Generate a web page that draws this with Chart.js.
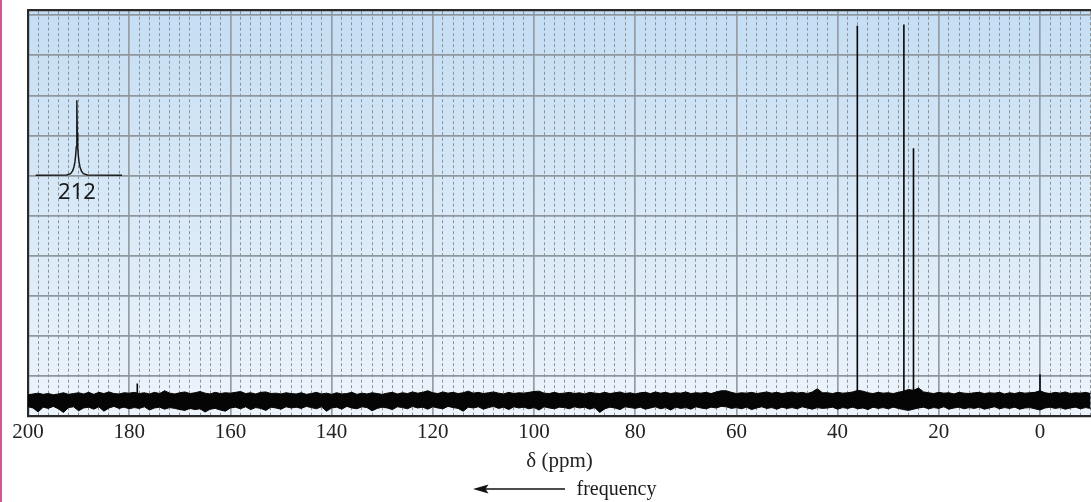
<!DOCTYPE html>
<html><head><meta charset="utf-8">
<script src="https://cdn.jsdelivr.net/npm/chart.js@4.4.1/dist/chart.umd.min.js"></script>
<style>
html,body{margin:0;padding:0;background:#fff;}
#wrap{position:relative;width:1091px;height:502px;overflow:hidden;}
#edge{position:absolute;left:0;top:0;width:2px;height:502px;background:#cf5b8c;}
canvas{position:absolute;left:0;top:0;}
</style></head><body>
<div id="wrap"><canvas id="c" width="1091" height="502"></canvas><div id="edge"></div></div>
<script>
// ---- axis / tick values ----
const majorTicks = [200,180,160,140,120,100,80,60,40,20,0];
const minorStep = 2;
const yGrid = [0,10,20,30,40,50,60,70,80,90,100];
const xMax = 200, xMin = -10.08;
const yMax = 101.3;
const xTitle = 'δ (ppm)';
const arrowLabel = 'frequency';

// ---- baseline noise envelope, one value per ppm from 200 down to -10 ----
const ppmStart = 200, ppmStep = -1;
const noiseHigh = [
 5.3,5.5,5.7,5.4,5.6,5.3,5.5,5.8,5.4,5.6,
 5.8,5.5,5.9,5.4,5.9,5.6,6.0,5.6,5.5,5.8,
 5.7,5.9,5.6,5.8,5.5,5.9,5.6,6.3,5.7,5.5,
 5.8,6.0,5.6,5.8,6.1,5.7,5.5,5.9,5.6,5.8,
 5.7,5.9,6.1,5.6,5.8,5.5,5.9,6.0,5.6,5.7,
 5.5,5.8,5.6,5.5,5.8,5.4,5.6,5.9,5.5,5.7,
 5.4,5.8,5.5,5.6,5.9,5.4,5.7,5.5,5.8,5.6,
 5.4,5.7,5.9,5.5,5.8,5.6,6.0,5.7,5.9,6.3,
 5.8,5.6,6.0,5.7,5.9,5.6,5.8,6.2,5.7,5.9,
 5.6,5.8,6.0,5.7,5.5,5.9,5.6,5.8,5.7,5.9,
 6.1,6.2,5.7,5.6,5.9,5.6,5.7,5.9,5.6,5.8,
 5.5,5.9,5.7,5.6,5.9,5.6,5.8,6.0,5.6,5.8,
 5.5,5.8,5.9,5.6,6.0,5.7,5.9,5.6,5.8,5.7,
 6.0,5.6,5.8,5.7,5.9,5.6,6.0,6.3,6.3,5.9,
 5.6,5.8,5.7,5.9,5.6,5.8,6.0,5.7,5.9,5.6,
 5.8,6.0,5.7,5.9,5.6,6.0,6.8,5.8,5.8,5.6,
 5.9,5.7,5.8,6.0,6.4,6.2,5.8,5.6,5.9,5.7,
 5.8,5.6,5.9,6.2,6.6,6.4,7.0,6.0,5.8,5.6,
 5.9,5.7,5.8,5.5,5.9,5.7,5.6,5.8,5.9,5.6,
 5.8,5.7,5.9,5.5,5.8,5.6,5.9,5.7,5.8,5.9,
 6.3,5.8,5.6,5.9,5.7,6.0,5.6,5.8,5.7,5.9,5.6
];
const noiseLow = [
 2.3,2.0,1.0,2.2,1.9,2.4,1.8,0.9,2.1,2.3,
 1.3,2.0,2.2,1.7,2.3,1.2,2.0,2.4,1.9,2.2,
 1.8,2.1,1.9,2.3,1.5,2.0,2.2,1.7,2.1,1.9,
 1.6,1.4,1.9,1.6,1.8,1.0,1.7,1.9,1.5,1.2,
 2.0,2.2,1.8,2.3,1.6,2.1,1.9,1.4,2.2,2.0,
 1.7,2.3,2.0,2.2,1.9,2.4,2.1,1.8,2.3,1.2,
 2.0,2.2,1.7,2.4,2.0,1.8,2.3,2.1,1.3,1.9,
 2.2,2.0,1.6,2.3,2.1,1.8,2.4,2.0,2.2,1.7,
 2.3,2.0,1.8,2.4,2.1,1.9,1.2,2.2,2.0,2.3,
 1.7,2.1,2.4,1.9,2.2,1.6,2.3,2.0,2.2,1.8,
 2.1,1.5,2.3,2.0,1.8,2.2,2.1,1.8,2.3,2.0,
 2.2,1.7,2.1,0.9,1.8,2.2,2.0,1.6,2.3,2.1,
 1.9,2.2,1.7,2.0,2.3,1.8,2.1,1.5,2.2,1.9,
 2.1,1.7,2.3,2.0,1.8,2.2,2.0,2.4,2.3,1.9,
 2.1,1.8,2.2,1.6,2.0,2.3,1.9,2.1,1.7,2.2,
 1.9,2.1,1.8,2.3,2.0,1.7,2.1,1.9,2.0,2.2,
 1.7,2.1,1.9,2.2,1.8,2.0,1.6,2.2,1.9,2.1,
 1.8,2.2,1.9,1.6,1.4,1.7,2.0,2.2,1.8,2.1,
 1.9,2.3,1.7,2.0,2.2,1.8,2.1,1.9,2.2,1.7,
 2.0,2.3,1.8,2.1,1.9,2.2,1.7,2.0,2.1,1.8,
 1.5,2.0,2.2,1.9,2.1,1.7,2.0,2.2,1.8,2.1,1.9
];

// ---- sharp resonances ----
const peakPpm    = [178.4, 36.1, 26.9, 25.0, 0.0];
const peakHeight = [8.1,   97.4, 97.7, 66.8, 10.4];
const peakBase = 3.8;

// ---- inset: off-scale carbonyl at 212 ppm ----
const insetPpm    = [216.08,213.02,212.63,212.43,212.30,212.20,212.13,212.07,212.03,212.00,211.97,211.93,211.87,211.80,211.70,211.57,211.37,210.98,207.55];
const insetHeight = [60.07,60.15,60.48,61.15,62.14,63.39,65.05,67.13,70.46,78.77,70.46,67.13,65.05,63.39,62.14,61.15,60.48,60.15,60.07];
const insetLabel = '212';
const insetLabelValue = 212;

// ---- build library data ----
const ppmAxis = noiseHigh.map((_, i) => ppmStart + i * ppmStep);
const highData = ppmAxis.map((p, i) => ({x: p, y: noiseHigh[i]}));
const lowData  = ppmAxis.map((p, i) => ({x: p, y: noiseLow[i]}));
const peakData = [];
peakPpm.forEach((p, i) => {
  peakData.push({x: p, y: peakBase}, {x: p, y: peakHeight[i]}, {x: p, y: null});
});
const insetData = insetPpm.map((p, i) => ({x: p, y: insetHeight[i]}));

const SERIF = '"Liberation Serif", "Times New Roman", serif';
const INK = '#050505';
const BORDER = '#2a2a2a';

const bgPlugin = {
  id: 'plotBg',
  beforeDraw(chart) {
    const {ctx, chartArea: a} = chart;
    const g = ctx.createLinearGradient(0, a.top, 0, a.bottom);
    g.addColorStop(0, '#c5def3');
    g.addColorStop(1, '#edf4fb');
    ctx.save();
    ctx.fillStyle = g;
    ctx.fillRect(a.left, a.top, a.right - a.left, a.bottom - a.top);
    ctx.restore();
  }
};

const annotPlugin = {
  id: 'annot',
  afterDraw(chart) {
    const {ctx, chartArea: a, scales} = chart;
    // inset label
    const lx = scales.xi.getPixelForValue(insetLabelValue);
    const ly = scales.y.getPixelForValue(insetHeight[0]) + 17;
    ctx.save();
    ctx.fillStyle = '#1a1a1a';
    ctx.font = '22px "Noto Sans", "Open Sans", sans-serif';
    ctx.textAlign = 'center';
    ctx.textBaseline = 'middle';
    ctx.fillText(insetLabel, lx, ly);
    // frequency arrow
    const cx = (a.left + a.right) / 2;
    const ay = 489;
    ctx.strokeStyle = '#111';
    ctx.fillStyle = '#111';
    ctx.lineWidth = 1.3;
    ctx.beginPath();
    ctx.moveTo(cx - 76, ay);
    ctx.lineTo(cx + 5.5, ay);
    ctx.stroke();
    ctx.beginPath();
    ctx.moveTo(cx - 86.5, ay);
    ctx.lineTo(cx - 71, ay - 4.5);
    ctx.lineTo(cx - 74, ay);
    ctx.lineTo(cx - 71, ay + 4.5);
    ctx.closePath();
    ctx.fill();
    ctx.font = '20px ' + SERIF;
    ctx.textAlign = 'left';
    ctx.textBaseline = 'alphabetic';
    ctx.fillStyle = '#1a1a1a';
    ctx.fillText(arrowLabel, cx + 17, 495);
    ctx.restore();
  }
};

new Chart(document.getElementById('c'), {
  type: 'line',
  data: {
    datasets: [
      {label: 'low', data: lowData, borderColor: INK, backgroundColor: INK, borderWidth: 1, pointRadius: 0, fill: false, tension: 0},
      {label: 'high', data: highData, borderColor: INK, backgroundColor: INK, borderWidth: 1, pointRadius: 0, fill: '-1', tension: 0},
      {label: 'peaks', data: peakData, borderColor: INK, borderWidth: 1.6, pointRadius: 0, fill: false, spanGaps: false, tension: 0},
      {label: 'inset', data: insetData, xAxisID: 'xi', yAxisID: 'y', borderColor: '#1a1a1a', borderWidth: 1.5, pointRadius: 0, fill: false, tension: 0}
    ]
  },
  options: {
    responsive: false,
    animation: false,
    devicePixelRatio: 1,
    layout: {padding: {top: 10, right: 0, left: 0, bottom: 0}},
    plugins: {legend: {display: false}, tooltip: {enabled: false}},
    scales: {
      x: {
        type: 'linear', position: 'bottom', reverse: true, min: xMin, max: xMax,
        afterBuildTicks: s => { s.ticks = majorTicks.map(v => ({value: v})); },
        afterFit: s => { s.height = 86; },
        ticks: {font: {family: SERIF, size: 21}, color: '#222', padding: 4, maxRotation: 0, autoSkip: false, callback: v => String(v)},
        grid: {color: '#969ca3', lineWidth: 1.7, drawTicks: false},
        border: {display: true, color: BORDER, width: 2.2},
        title: {display: true, text: xTitle, font: {family: SERIF, size: 21}, color: '#222', padding: {top: 0, bottom: 28}}
      },
      x2: {
        type: 'linear', position: 'top', reverse: true, min: xMin, max: xMax,
        afterBuildTicks: s => { const t = []; for (let v = xMax; v >= xMin; v -= minorStep) t.push({value: v}); s.ticks = t; },
        afterFit: s => { s.height = 0; },
        ticks: {display: false},
        grid: {color: c => (c.tick && Math.abs(c.tick.value % 20) < 1e-6) ? 'rgba(0,0,0,0)' : '#8a9299', lineWidth: 1, drawTicks: false},
        border: {display: true, color: BORDER, width: 2.2, dash: [3, 2.5]}
      },
      xi: {
        type: 'linear', display: false, reverse: true, min: 111.80, max: 216.84
      },
      y: {
        type: 'linear', position: 'left', min: 0, max: yMax,
        afterBuildTicks: s => { s.ticks = yGrid.map(v => ({value: v})); },
        afterFit: s => { s.width = 28; },
        ticks: {display: false},
        grid: {color: '#8f979e', lineWidth: 1.7, drawTicks: false},
        border: {display: true, color: BORDER, width: 2.2}
      }
    }
  },
  plugins: [bgPlugin, annotPlugin]
});
</script>
</body></html>
